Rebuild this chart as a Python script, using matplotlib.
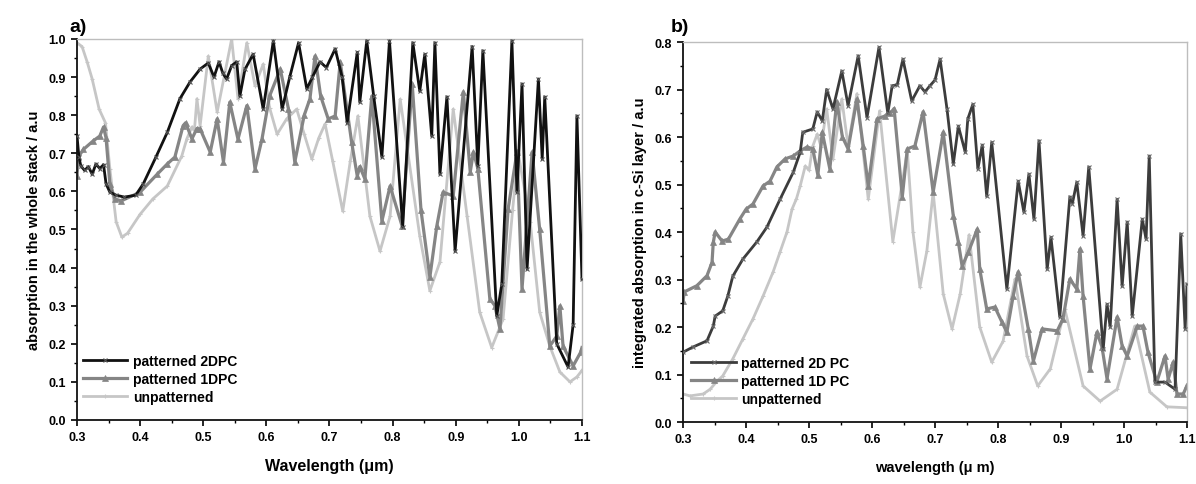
import matplotlib

matplotlib.use("Agg")
import matplotlib.pyplot as plt
from matplotlib.ticker import MultipleLocator

plt.rcParams["font.family"] = ["Liberation Sans", "DejaVu Sans"]
plt.rcParams["font.weight"] = "bold"

# ---- panel a): absorption in the whole stack ----
a_x_2d = [0.300, 0.303, 0.306, 0.312, 0.318, 0.324, 0.330, 0.336, 0.342, 0.346,
          0.352, 0.362, 0.375, 0.393, 0.405, 0.425, 0.443, 0.463, 0.479, 0.495,
          0.508, 0.517, 0.525, 0.531, 0.537, 0.545, 0.553, 0.558, 0.566, 0.579,
          0.595, 0.611, 0.625, 0.637, 0.651, 0.664, 0.673, 0.685, 0.695, 0.709,
          0.720, 0.728, 0.744, 0.748, 0.759, 0.770, 0.783, 0.795, 0.816, 0.832,
          0.843, 0.851, 0.862, 0.867, 0.875, 0.886, 0.899, 0.926, 0.935, 0.943,
          0.965, 0.973, 0.989, 0.997, 1.005, 1.013, 1.031, 1.037, 1.041, 1.060,
          1.078, 1.086, 1.092, 1.100]
a_y_2d = [0.745, 0.690, 0.667, 0.655, 0.665, 0.645, 0.672, 0.660, 0.670, 0.620,
          0.598, 0.590, 0.585, 0.590, 0.620, 0.690, 0.755, 0.843, 0.887, 0.921,
          0.937, 0.900, 0.940, 0.910, 0.895, 0.930, 0.940, 0.850, 0.920, 0.960,
          0.816, 0.995, 0.816, 0.900, 0.990, 0.869, 0.900, 0.940, 0.925, 0.974,
          0.900, 0.780, 0.965, 0.834, 0.995, 0.850, 0.690, 0.995, 0.507, 0.990,
          0.863, 0.960, 0.745, 0.990, 0.645, 0.848, 0.443, 0.980, 0.667, 0.969,
          0.273, 0.357, 0.995, 0.598, 0.882, 0.396, 0.895, 0.685, 0.848, 0.200,
          0.139, 0.250, 0.798, 0.370]

a_x_1d = [0.300, 0.302, 0.310, 0.326, 0.336, 0.342, 0.346, 0.352, 0.360, 0.370,
          0.400, 0.427, 0.443, 0.455, 0.468, 0.472, 0.482, 0.490, 0.495, 0.511,
          0.522, 0.532, 0.542, 0.555, 0.569, 0.582, 0.593, 0.605, 0.622, 0.635,
          0.645, 0.660, 0.669, 0.677, 0.686, 0.698, 0.709, 0.717, 0.735, 0.744,
          0.748, 0.756, 0.767, 0.783, 0.796, 0.815, 0.831, 0.845, 0.859, 0.870,
          0.880, 0.896, 0.912, 0.923, 0.928, 0.935, 0.954, 0.962, 0.970, 0.983,
          0.997, 1.005, 1.021, 1.033, 1.049, 1.060, 1.065, 1.070, 1.086, 1.098,
          1.100]
a_y_1d = [0.640, 0.690, 0.710, 0.733, 0.745, 0.769, 0.740, 0.620, 0.580, 0.575,
          0.598, 0.645, 0.672, 0.690, 0.772, 0.780, 0.738, 0.765, 0.764, 0.703,
          0.790, 0.677, 0.834, 0.737, 0.825, 0.659, 0.737, 0.850, 0.921, 0.816,
          0.677, 0.800, 0.843, 0.955, 0.850, 0.790, 0.798, 0.940, 0.730, 0.640,
          0.665, 0.633, 0.850, 0.522, 0.614, 0.509, 0.882, 0.550, 0.375, 0.509,
          0.598, 0.588, 0.861, 0.651, 0.703, 0.660, 0.318, 0.300, 0.239, 0.554,
          0.703, 0.344, 0.703, 0.500, 0.194, 0.220, 0.299, 0.194, 0.142, 0.178,
          0.190]

a_x_un = [0.300, 0.308, 0.316, 0.324, 0.335, 0.345, 0.352, 0.362, 0.371, 0.380,
          0.400, 0.420, 0.443, 0.466, 0.474, 0.482, 0.486, 0.490, 0.495, 0.508,
          0.522, 0.545, 0.555, 0.569, 0.582, 0.595, 0.605, 0.617, 0.632, 0.648,
          0.660, 0.672, 0.683, 0.693, 0.705, 0.721, 0.733, 0.745, 0.764, 0.780,
          0.796, 0.812, 0.843, 0.859, 0.875, 0.896, 0.918, 0.938, 0.957, 0.975,
          0.990, 0.999, 1.018, 1.033, 1.049, 1.065, 1.081, 1.092, 1.100]
a_y_un = [0.990, 0.980, 0.940, 0.895, 0.816, 0.780, 0.660, 0.520, 0.480, 0.490,
          0.540, 0.580, 0.614, 0.693, 0.738, 0.769, 0.760, 0.843, 0.772, 0.955,
          0.808, 1.000, 0.843, 0.990, 0.877, 0.934, 0.820, 0.750, 0.790, 0.816,
          0.750, 0.685, 0.740, 0.777, 0.680, 0.548, 0.680, 0.798, 0.535, 0.443,
          0.535, 0.842, 0.483, 0.339, 0.415, 0.816, 0.535, 0.283, 0.190, 0.265,
          0.550, 0.700, 0.520, 0.283, 0.194, 0.126, 0.100, 0.113, 0.130]

# ---- panel b): integrated absorption in c-Si layer ----
b_x_2d = [0.300, 0.316, 0.338, 0.348, 0.351, 0.363, 0.371, 0.379, 0.395, 0.417,
          0.433, 0.454, 0.475, 0.486, 0.490, 0.506, 0.513, 0.521, 0.528, 0.538,
          0.552, 0.562, 0.578, 0.592, 0.611, 0.625, 0.632, 0.640, 0.649, 0.663,
          0.676, 0.684, 0.692, 0.700, 0.708, 0.719, 0.729, 0.737, 0.748, 0.752,
          0.760, 0.768, 0.775, 0.782, 0.790, 0.814, 0.832, 0.841, 0.849, 0.857,
          0.865, 0.878, 0.884, 0.898, 0.914, 0.918, 0.925, 0.935, 0.944, 0.967,
          0.973, 0.978, 0.989, 0.997, 1.005, 1.013, 1.029, 1.035, 1.040, 1.049,
          1.065, 1.081, 1.090, 1.097, 1.100]
b_y_2d = [0.147, 0.158, 0.171, 0.202, 0.223, 0.234, 0.265, 0.307, 0.343, 0.379,
          0.410, 0.469, 0.526, 0.568, 0.610, 0.617, 0.653, 0.634, 0.700, 0.659,
          0.739, 0.666, 0.771, 0.641, 0.789, 0.650, 0.708, 0.710, 0.764, 0.676,
          0.708, 0.695, 0.708, 0.720, 0.764, 0.659, 0.543, 0.623, 0.568, 0.638,
          0.669, 0.533, 0.583, 0.475, 0.589, 0.280, 0.507, 0.442, 0.522, 0.427,
          0.592, 0.322, 0.389, 0.221, 0.474, 0.460, 0.505, 0.392, 0.537, 0.154,
          0.248, 0.200, 0.469, 0.286, 0.421, 0.223, 0.427, 0.385, 0.560, 0.084,
          0.084, 0.069, 0.396, 0.196, 0.290]

b_x_1d = [0.300, 0.302, 0.322, 0.338, 0.346, 0.348, 0.351, 0.362, 0.372, 0.390,
          0.400, 0.411, 0.427, 0.438, 0.449, 0.462, 0.475, 0.486, 0.497, 0.506,
          0.514, 0.521, 0.533, 0.544, 0.553, 0.562, 0.576, 0.586, 0.594, 0.608,
          0.620, 0.629, 0.635, 0.648, 0.656, 0.668, 0.681, 0.697, 0.713, 0.729,
          0.737, 0.743, 0.753, 0.767, 0.771, 0.782, 0.795, 0.806, 0.814, 0.824,
          0.832, 0.848, 0.856, 0.870, 0.894, 0.903, 0.914, 0.925, 0.930, 0.935,
          0.946, 0.957, 0.965, 0.973, 0.989, 0.997, 1.005, 1.021, 1.030, 1.038,
          1.052, 1.065, 1.070, 1.078, 1.084, 1.094, 1.100]
b_y_1d = [0.255, 0.274, 0.287, 0.308, 0.336, 0.378, 0.400, 0.381, 0.385, 0.427,
          0.448, 0.459, 0.497, 0.507, 0.537, 0.554, 0.560, 0.571, 0.579, 0.575,
          0.520, 0.610, 0.533, 0.674, 0.600, 0.575, 0.680, 0.581, 0.497, 0.638,
          0.644, 0.650, 0.660, 0.474, 0.575, 0.581, 0.653, 0.484, 0.610, 0.434,
          0.379, 0.328, 0.358, 0.406, 0.322, 0.238, 0.242, 0.211, 0.189, 0.265,
          0.316, 0.196, 0.128, 0.196, 0.192, 0.217, 0.301, 0.280, 0.364, 0.265,
          0.112, 0.189, 0.158, 0.091, 0.221, 0.160, 0.139, 0.202, 0.202, 0.147,
          0.084, 0.139, 0.090, 0.126, 0.059, 0.059, 0.077]

b_x_un = [0.300, 0.311, 0.332, 0.343, 0.354, 0.363, 0.379, 0.395, 0.411, 0.427,
          0.443, 0.454, 0.465, 0.473, 0.480, 0.486, 0.494, 0.500, 0.506, 0.513,
          0.519, 0.528, 0.538, 0.552, 0.562, 0.576, 0.594, 0.612, 0.633, 0.656,
          0.665, 0.676, 0.687, 0.697, 0.713, 0.727, 0.740, 0.754, 0.771, 0.790,
          0.808, 0.827, 0.846, 0.863, 0.883, 0.906, 0.935, 0.962, 0.989, 1.017,
          1.041, 1.068, 1.100]
b_y_un = [0.059, 0.055, 0.059, 0.069, 0.086, 0.097, 0.133, 0.175, 0.217, 0.265,
          0.316, 0.358, 0.400, 0.448, 0.470, 0.497, 0.539, 0.530, 0.581, 0.606,
          0.580, 0.659, 0.554, 0.680, 0.581, 0.691, 0.469, 0.655, 0.380, 0.571,
          0.400, 0.284, 0.360, 0.484, 0.270, 0.196, 0.270, 0.394, 0.200, 0.126,
          0.170, 0.301, 0.139, 0.076, 0.112, 0.238, 0.076, 0.044, 0.069, 0.202,
          0.063, 0.032, 0.030]

BLACK = "#111111"
DARK = "#3c3c3c"
MID = "#858585"
LIGHT = "#c6c6c6"


def style_axes(ax, ymax, ylabel, xlabel, xlabel_size):
    ax.set_xlim(0.3, 1.1)
    ax.set_ylim(0.0, ymax)
    ax.xaxis.set_major_locator(MultipleLocator(0.1))
    ax.xaxis.set_minor_locator(MultipleLocator(0.05))
    ax.yaxis.set_major_locator(MultipleLocator(0.1))
    ax.yaxis.set_minor_locator(MultipleLocator(0.05))
    ax.xaxis.set_major_formatter(lambda v, p: f"{v:.1f}")
    ax.yaxis.set_major_formatter(lambda v, p: f"{v:.1f}")
    ax.tick_params(which="major", direction="out", length=4.5, width=1.2,
                   labelsize=9, top=False, right=False)
    ax.tick_params(which="minor", direction="out", length=2.5, width=1.0,
                   top=False, right=False)
    for lab in ax.get_xticklabels() + ax.get_yticklabels():
        lab.set_fontweight("bold")
    for side in ("left", "bottom"):
        ax.spines[side].set_linewidth(1.3)
        ax.spines[side].set_color("#111111")
    for side in ("top", "right"):
        ax.spines[side].set_linewidth(1.0)
        ax.spines[side].set_color("#bdbdbd")
    ax.set_ylabel(ylabel, fontsize=10.5, fontweight="bold", labelpad=5)
    ax.set_xlabel(xlabel, fontsize=xlabel_size, fontweight="bold", labelpad=11)


fig = plt.figure(figsize=(11.96, 4.85), dpi=100)
ax_a = fig.add_axes([0.0644, 0.132, 0.4222, 0.7856])
ax_b = fig.add_axes([0.5711, 0.1278, 0.4214, 0.7835])

ax_a.plot(a_x_un, a_y_un, color=LIGHT, lw=2.0, marker="+", ms=3, mew=0.8,
          label="unpatterned", zorder=1)
ax_a.plot(a_x_1d, a_y_1d, color=MID, lw=2.3, marker="^", ms=4, mew=0.5,
          label="patterned 1DPC", zorder=2)
ax_a.plot(a_x_2d, a_y_2d, color=BLACK, lw=2.0, marker="x", ms=3.5, mew=0.8,
          mec="#555555", label="patterned 2DPC", zorder=3)
style_axes(ax_a, 1.0, "absorption in the whole stack / a.u",
           "Wavelength (\u03bcm)", 11.5)
h, l = ax_a.get_legend_handles_labels()
ax_a.legend(h[::-1], l[::-1], loc="lower left", bbox_to_anchor=(-0.005, 0.02),
            frameon=False, prop={"weight": "bold", "size": 10},
            handlelength=3.2, handletextpad=0.4, labelspacing=0.3,
            borderaxespad=0.2)

ax_b.plot(b_x_un, b_y_un, color=LIGHT, lw=2.0, marker="+", ms=3, mew=0.8,
          label="unpatterned", zorder=1)
ax_b.plot(b_x_1d, b_y_1d, color=MID, lw=2.3, marker="^", ms=4, mew=0.5,
          label="patterned 1D PC", zorder=2)
ax_b.plot(b_x_2d, b_y_2d, color=DARK, lw=2.0, marker="x", ms=3.5, mew=0.8,
          mec="#6a6a6a", label="patterned 2D PC", zorder=3)
style_axes(ax_b, 0.8, "integrated absorption in c-Si layer / a.u",
           "wavelength (\u03bc m)", 10.5)
h, l = ax_b.get_legend_handles_labels()
ax_b.legend(h[::-1], l[::-1], loc="lower left", bbox_to_anchor=(0.0, 0.02),
            frameon=False, prop={"weight": "bold", "size": 10},
            handlelength=3.2, handletextpad=0.4, labelspacing=0.3,
            borderaxespad=0.2)

fig.text(0.058, 0.935, "a)", fontsize=14, fontweight="bold")
fig.text(0.561, 0.935, "b)", fontsize=14, fontweight="bold")

fig.savefig("out.png", dpi=100)
